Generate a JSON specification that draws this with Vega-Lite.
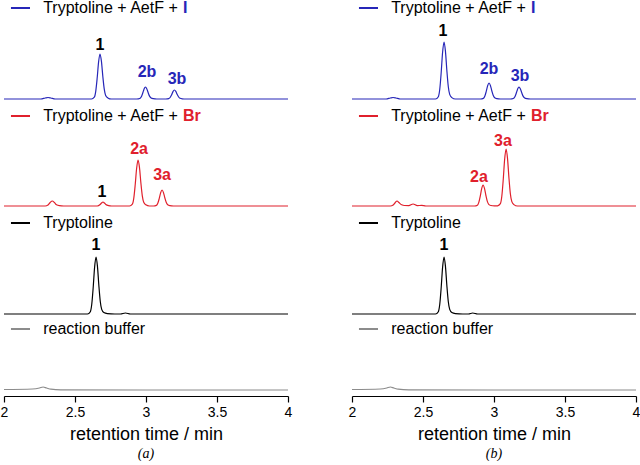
{
"$schema": "https://vega.github.io/schema/vega-lite/v6.json",
"padding": {"left": 0, "right": 0, "top": 0, "bottom": 0},
"background": "white",
"spacing": 56,
"config": {
  "view": {"stroke": null},
  "font": "Liberation Sans",
  "axis": {
    "domainColor": "black", "tickColor": "black", "domainWidth": 1.2, "tickWidth": 1.2,
    "labelFontSize": 14, "labelColor": "black", "labelFont": "Liberation Sans",
    "titleFontSize": 18, "titleFontWeight": "normal", "titleColor": "black", "titleFont": "Liberation Sans",
    "titlePadding": 6, "labelPadding": 3, "grid": false, "labelFlush": false, "labelOverlap": false
  }
},
"datasets": {
  "traces": [
    {"p":"a","s":"I","t":2.0,"y":297},{"p":"a","s":"I","t":2.26,"y":297},{"p":"a","s":"I","t":2.29,"y":298},{"p":"a","s":"I","t":2.31,"y":298.5},{"p":"a","s":"I","t":2.33,"y":298},{"p":"a","s":"I","t":2.36,"y":297},
    {"p":"a","s":"I","t":2.616,"y":297},{"p":"a","s":"I","t":2.636,"y":298.8},{"p":"a","s":"I","t":2.646,"y":304.7},{"p":"a","s":"I","t":2.656,"y":317.7},{"p":"a","s":"I","t":2.666,"y":333.9},{"p":"a","s":"I","t":2.676,"y":342},{"p":"a","s":"I","t":2.686,"y":334.8},{"p":"a","s":"I","t":2.696,"y":319.5},{"p":"a","s":"I","t":2.706,"y":306.9},{"p":"a","s":"I","t":2.716,"y":300.6},{"p":"a","s":"I","t":2.731,"y":298.1},{"p":"a","s":"I","t":2.756,"y":297},
    {"p":"a","s":"I","t":2.936,"y":297},{"p":"a","s":"I","t":2.956,"y":297.5},{"p":"a","s":"I","t":2.966,"y":299},{"p":"a","s":"I","t":2.976,"y":302.5},{"p":"a","s":"I","t":2.986,"y":306.8},{"p":"a","s":"I","t":2.996,"y":309},{"p":"a","s":"I","t":3.006,"y":307.1},{"p":"a","s":"I","t":3.016,"y":303},{"p":"a","s":"I","t":3.026,"y":299.6},{"p":"a","s":"I","t":3.036,"y":298},{"p":"a","s":"I","t":3.051,"y":297.3},{"p":"a","s":"I","t":3.076,"y":297},
    {"p":"a","s":"I","t":3.14,"y":297},{"p":"a","s":"I","t":3.16,"y":297.4},{"p":"a","s":"I","t":3.17,"y":298.5},{"p":"a","s":"I","t":3.18,"y":301.1},{"p":"a","s":"I","t":3.19,"y":304.4},{"p":"a","s":"I","t":3.2,"y":306},{"p":"a","s":"I","t":3.21,"y":304.6},{"p":"a","s":"I","t":3.22,"y":301.5},{"p":"a","s":"I","t":3.23,"y":299},{"p":"a","s":"I","t":3.24,"y":297.7},{"p":"a","s":"I","t":3.255,"y":297.2},{"p":"a","s":"I","t":3.28,"y":297},{"p":"a","s":"I","t":4.0,"y":297},

    {"p":"a","s":"Br","t":2.0,"y":190},{"p":"a","s":"Br","t":2.29,"y":190},{"p":"a","s":"Br","t":2.31,"y":191},{"p":"a","s":"Br","t":2.325,"y":193.5},{"p":"a","s":"Br","t":2.34,"y":195},{"p":"a","s":"Br","t":2.355,"y":193.5},{"p":"a","s":"Br","t":2.37,"y":191.2},{"p":"a","s":"Br","t":2.39,"y":190.3},{"p":"a","s":"Br","t":2.42,"y":190},
    {"p":"a","s":"Br","t":2.657,"y":190},{"p":"a","s":"Br","t":2.677,"y":191.5},{"p":"a","s":"Br","t":2.687,"y":193},{"p":"a","s":"Br","t":2.697,"y":194},{"p":"a","s":"Br","t":2.707,"y":193},{"p":"a","s":"Br","t":2.717,"y":191.5},{"p":"a","s":"Br","t":2.737,"y":190.3},{"p":"a","s":"Br","t":2.757,"y":190},
    {"p":"a","s":"Br","t":2.884,"y":190},{"p":"a","s":"Br","t":2.904,"y":191.8},{"p":"a","s":"Br","t":2.914,"y":197.8},{"p":"a","s":"Br","t":2.924,"y":211.2},{"p":"a","s":"Br","t":2.934,"y":227.7},{"p":"a","s":"Br","t":2.944,"y":236},{"p":"a","s":"Br","t":2.954,"y":228.6},{"p":"a","s":"Br","t":2.964,"y":213},{"p":"a","s":"Br","t":2.974,"y":200.1},{"p":"a","s":"Br","t":2.984,"y":193.7},{"p":"a","s":"Br","t":2.999,"y":191.2},{"p":"a","s":"Br","t":3.024,"y":190},
    {"p":"a","s":"Br","t":3.053,"y":190},{"p":"a","s":"Br","t":3.073,"y":190.6},{"p":"a","s":"Br","t":3.083,"y":192.7},{"p":"a","s":"Br","t":3.093,"y":197.4},{"p":"a","s":"Br","t":3.103,"y":203.1},{"p":"a","s":"Br","t":3.113,"y":206},{"p":"a","s":"Br","t":3.123,"y":203.4},{"p":"a","s":"Br","t":3.133,"y":198},{"p":"a","s":"Br","t":3.143,"y":193.5},{"p":"a","s":"Br","t":3.153,"y":191.3},{"p":"a","s":"Br","t":3.168,"y":190.4},{"p":"a","s":"Br","t":3.193,"y":190},{"p":"a","s":"Br","t":4.0,"y":190},

    {"p":"a","s":"T","t":2.0,"y":82},{"p":"a","s":"T","t":2.588,"y":82},{"p":"a","s":"T","t":2.608,"y":84.3},{"p":"a","s":"T","t":2.618,"y":91.7},{"p":"a","s":"T","t":2.628,"y":108.2},{"p":"a","s":"T","t":2.638,"y":128.7},{"p":"a","s":"T","t":2.648,"y":139},{"p":"a","s":"T","t":2.658,"y":129.9},{"p":"a","s":"T","t":2.668,"y":110.5},{"p":"a","s":"T","t":2.678,"y":94.5},{"p":"a","s":"T","t":2.688,"y":86.6},{"p":"a","s":"T","t":2.703,"y":83.4},{"p":"a","s":"T","t":2.728,"y":82.4},{"p":"a","s":"T","t":2.78,"y":82},{"p":"a","s":"T","t":2.82,"y":82},{"p":"a","s":"T","t":2.855,"y":83},{"p":"a","s":"T","t":2.89,"y":82},{"p":"a","s":"T","t":4.0,"y":82},

    {"p":"a","s":"B","t":2.0,"y":6.5},{"p":"a","s":"B","t":2.2,"y":7},{"p":"a","s":"B","t":2.25,"y":8},{"p":"a","s":"B","t":2.275,"y":9},{"p":"a","s":"B","t":2.3,"y":8},{"p":"a","s":"B","t":2.33,"y":6.8},{"p":"a","s":"B","t":2.4,"y":6.2},{"p":"a","s":"B","t":3.0,"y":6},{"p":"a","s":"B","t":4.0,"y":6},

    {"p":"b","s":"I","t":2.0,"y":297},{"p":"b","s":"I","t":2.24,"y":297},{"p":"b","s":"I","t":2.27,"y":298},{"p":"b","s":"I","t":2.289,"y":298.5},{"p":"b","s":"I","t":2.31,"y":298},{"p":"b","s":"I","t":2.34,"y":297},
    {"p":"b","s":"I","t":2.588,"y":297},{"p":"b","s":"I","t":2.608,"y":299.3},{"p":"b","s":"I","t":2.618,"y":306.7},{"p":"b","s":"I","t":2.628,"y":323.2},{"p":"b","s":"I","t":2.638,"y":343.7},{"p":"b","s":"I","t":2.648,"y":354},{"p":"b","s":"I","t":2.658,"y":344.9},{"p":"b","s":"I","t":2.668,"y":325.5},{"p":"b","s":"I","t":2.678,"y":309.5},{"p":"b","s":"I","t":2.688,"y":301.6},{"p":"b","s":"I","t":2.703,"y":298.4},{"p":"b","s":"I","t":2.728,"y":297},
    {"p":"b","s":"I","t":2.905,"y":297},{"p":"b","s":"I","t":2.925,"y":297.6},{"p":"b","s":"I","t":2.935,"y":299.7},{"p":"b","s":"I","t":2.945,"y":304.4},{"p":"b","s":"I","t":2.955,"y":310.1},{"p":"b","s":"I","t":2.965,"y":313},{"p":"b","s":"I","t":2.975,"y":310.4},{"p":"b","s":"I","t":2.985,"y":305},{"p":"b","s":"I","t":2.995,"y":300.5},{"p":"b","s":"I","t":3.005,"y":298.3},{"p":"b","s":"I","t":3.02,"y":297.4},{"p":"b","s":"I","t":3.045,"y":297},
    {"p":"b","s":"I","t":3.116,"y":297},{"p":"b","s":"I","t":3.136,"y":297.5},{"p":"b","s":"I","t":3.146,"y":299},{"p":"b","s":"I","t":3.156,"y":302.5},{"p":"b","s":"I","t":3.166,"y":306.8},{"p":"b","s":"I","t":3.176,"y":309},{"p":"b","s":"I","t":3.186,"y":307.1},{"p":"b","s":"I","t":3.196,"y":303},{"p":"b","s":"I","t":3.206,"y":299.6},{"p":"b","s":"I","t":3.216,"y":298},{"p":"b","s":"I","t":3.231,"y":297.3},{"p":"b","s":"I","t":3.256,"y":297},{"p":"b","s":"I","t":4.0,"y":297},

    {"p":"b","s":"Br","t":2.0,"y":190},{"p":"b","s":"Br","t":2.27,"y":190},{"p":"b","s":"Br","t":2.29,"y":191},{"p":"b","s":"Br","t":2.305,"y":193.5},{"p":"b","s":"Br","t":2.317,"y":195},{"p":"b","s":"Br","t":2.33,"y":193.5},{"p":"b","s":"Br","t":2.35,"y":191.2},{"p":"b","s":"Br","t":2.37,"y":190.5},{"p":"b","s":"Br","t":2.4,"y":190.4},{"p":"b","s":"Br","t":2.43,"y":192},{"p":"b","s":"Br","t":2.46,"y":190.4},{"p":"b","s":"Br","t":2.49,"y":190.6},{"p":"b","s":"Br","t":2.52,"y":190},
    {"p":"b","s":"Br","t":2.863,"y":190},{"p":"b","s":"Br","t":2.883,"y":190.8},{"p":"b","s":"Br","t":2.893,"y":193.6},{"p":"b","s":"Br","t":2.903,"y":199.7},{"p":"b","s":"Br","t":2.913,"y":207.2},{"p":"b","s":"Br","t":2.923,"y":211},{"p":"b","s":"Br","t":2.933,"y":207.6},{"p":"b","s":"Br","t":2.943,"y":200.5},{"p":"b","s":"Br","t":2.953,"y":194.6},{"p":"b","s":"Br","t":2.963,"y":191.7},{"p":"b","s":"Br","t":2.978,"y":190.5},{"p":"b","s":"Br","t":3.003,"y":190.1},
    {"p":"b","s":"Br","t":3.025,"y":190.2},{"p":"b","s":"Br","t":3.045,"y":192.3},{"p":"b","s":"Br","t":3.055,"y":199.7},{"p":"b","s":"Br","t":3.065,"y":216.2},{"p":"b","s":"Br","t":3.075,"y":236.7},{"p":"b","s":"Br","t":3.085,"y":247},{"p":"b","s":"Br","t":3.095,"y":237.9},{"p":"b","s":"Br","t":3.105,"y":218.5},{"p":"b","s":"Br","t":3.115,"y":202.5},{"p":"b","s":"Br","t":3.125,"y":194.6},{"p":"b","s":"Br","t":3.14,"y":191.4},{"p":"b","s":"Br","t":3.165,"y":190},{"p":"b","s":"Br","t":4.0,"y":190},

    {"p":"b","s":"T","t":2.0,"y":82},{"p":"b","s":"T","t":2.588,"y":82},{"p":"b","s":"T","t":2.608,"y":84.3},{"p":"b","s":"T","t":2.618,"y":91.7},{"p":"b","s":"T","t":2.628,"y":108.2},{"p":"b","s":"T","t":2.638,"y":128.7},{"p":"b","s":"T","t":2.648,"y":139},{"p":"b","s":"T","t":2.658,"y":129.9},{"p":"b","s":"T","t":2.668,"y":110.5},{"p":"b","s":"T","t":2.678,"y":94.5},{"p":"b","s":"T","t":2.688,"y":86.6},{"p":"b","s":"T","t":2.703,"y":83.4},{"p":"b","s":"T","t":2.728,"y":82.4},{"p":"b","s":"T","t":2.78,"y":82},{"p":"b","s":"T","t":2.82,"y":82},{"p":"b","s":"T","t":2.85,"y":83},{"p":"b","s":"T","t":2.885,"y":82},{"p":"b","s":"T","t":4.0,"y":82},

    {"p":"b","s":"B","t":2.0,"y":6.5},{"p":"b","s":"B","t":2.2,"y":7},{"p":"b","s":"B","t":2.245,"y":8},{"p":"b","s":"B","t":2.27,"y":9},{"p":"b","s":"B","t":2.295,"y":8},{"p":"b","s":"B","t":2.325,"y":6.8},{"p":"b","s":"B","t":2.4,"y":6.2},{"p":"b","s":"B","t":3.0,"y":6},{"p":"b","s":"B","t":4.0,"y":6}
  ],
  "legend": [
    {"s":"I","y":388,"label":"Tryptoline + AetF + ","suf":"I"},
    {"s":"Br","y":280,"label":"Tryptoline + AetF + ","suf":"Br"},
    {"s":"T","y":173,"label":"Tryptoline","suf":""},
    {"s":"B","y":67,"label":"reaction buffer","suf":""}
  ],
  "peaks": [
    {"p":"a","t":2.676,"y":351,"text":"1","c":"T"},
    {"p":"a","t":3.007,"y":324,"text":"2b","c":"I"},
    {"p":"a","t":3.218,"y":317,"text":"3b","c":"I"},
    {"p":"a","t":2.951,"y":247,"text":"2a","c":"Br"},
    {"p":"a","t":3.113,"y":221,"text":"3a","c":"Br"},
    {"p":"a","t":2.69,"y":204,"text":"1","c":"T"},
    {"p":"a","t":2.648,"y":151,"text":"1","c":"T"},
    {"p":"b","t":2.641,"y":365,"text":"1","c":"T"},
    {"p":"b","t":2.965,"y":327,"text":"2b","c":"I"},
    {"p":"b","t":3.183,"y":320,"text":"3b","c":"I"},
    {"p":"b","t":2.894,"y":219,"text":"2a","c":"Br"},
    {"p":"b","t":3.063,"y":255,"text":"3a","c":"Br"},
    {"p":"b","t":2.648,"y":151,"text":"1","c":"T"}
  ]
},
"hconcat": [
  {
    "width": 284, "height": 394,
    "title": {"text": "(a)", "orient": "bottom", "font": "Liberation Serif", "fontStyle": "italic", "fontWeight": "normal", "fontSize": 14, "offset": 4, "color": "black"},
    "layer": [
      {"data": {"name": "traces"}, "transform": [{"filter": "datum.p === 'a'"}],
       "mark": {"type": "line", "strokeWidth": 1.2, "interpolate": "monotone"},
       "encoding": {
         "x": {"field": "t", "type": "quantitative", "scale": {"domain": [2, 4], "nice": false, "zero": false}, "title": "retention time / min",
               "axis": {"values": [2, 2.25, 2.5, 2.75, 3, 3.25, 3.5, 3.75, 4],
                        "labelExpr": "(datum.value*4)%2===1 ? '' : format(datum.value,'~g')",
                        "tickSize": {"condition": {"test": "(datum.value*4)%2===1", "value": 3}, "value": 6}}},
         "y": {"field": "y", "type": "quantitative", "scale": {"domain": [0, 394], "nice": false, "zero": false}, "axis": null},
         "color": {"field": "s", "type": "nominal", "scale": {"domain": ["I", "Br", "T", "B"], "range": ["#2626b8", "#e0202c", "#000000", "#8c8c8c"]}, "legend": null},
         "order": {"field": "t", "type": "quantitative"}
       }},
      {"data": {"name": "legend"}, "mark": {"type": "rule", "strokeWidth": 2},
       "encoding": {"x": {"datum": 2.049}, "x2": {"datum": 2.183}, "y": {"field": "y", "type": "quantitative"}, "color": {"field": "s", "type": "nominal"}}},
      {"data": {"name": "legend"}, "mark": {"type": "text", "align": "left", "baseline": "middle", "fontSize": 16, "color": "black"},
       "encoding": {"x": {"datum": 2.276}, "y": {"field": "y", "type": "quantitative"}, "text": {"field": "label"}}},
      {"data": {"name": "legend"}, "mark": {"type": "text", "align": "left", "baseline": "middle", "fontSize": 16, "fontWeight": "bold"},
       "encoding": {"x": {"datum": 3.261}, "y": {"field": "y", "type": "quantitative"}, "text": {"field": "suf"}, "color": {"field": "s", "type": "nominal"}}},
      {"data": {"name": "peaks"}, "transform": [{"filter": "datum.p === 'a'"}],
       "mark": {"type": "text", "align": "center", "baseline": "middle", "fontSize": 16, "fontWeight": "bold"},
       "encoding": {"x": {"field": "t", "type": "quantitative"}, "y": {"field": "y", "type": "quantitative"}, "text": {"field": "text"}, "color": {"field": "c", "type": "nominal"}}}
    ]
  },
  {
    "width": 284, "height": 394,
    "title": {"text": "(b)", "orient": "bottom", "font": "Liberation Serif", "fontStyle": "italic", "fontWeight": "normal", "fontSize": 14, "offset": 4, "color": "black"},
    "layer": [
      {"data": {"name": "traces"}, "transform": [{"filter": "datum.p === 'b'"}],
       "mark": {"type": "line", "strokeWidth": 1.2, "interpolate": "monotone"},
       "encoding": {
         "x": {"field": "t", "type": "quantitative", "scale": {"domain": [2, 4], "nice": false, "zero": false}, "title": "retention time / min",
               "axis": {"values": [2, 2.25, 2.5, 2.75, 3, 3.25, 3.5, 3.75, 4],
                        "labelExpr": "(datum.value*4)%2===1 ? '' : format(datum.value,'~g')",
                        "tickSize": {"condition": {"test": "(datum.value*4)%2===1", "value": 3}, "value": 6}}},
         "y": {"field": "y", "type": "quantitative", "scale": {"domain": [0, 394], "nice": false, "zero": false}, "axis": null},
         "color": {"field": "s", "type": "nominal", "scale": {"domain": ["I", "Br", "T", "B"], "range": ["#2626b8", "#e0202c", "#000000", "#8c8c8c"]}, "legend": null},
         "order": {"field": "t", "type": "quantitative"}
       }},
      {"data": {"name": "legend"}, "mark": {"type": "rule", "strokeWidth": 2},
       "encoding": {"x": {"datum": 2.049}, "x2": {"datum": 2.183}, "y": {"field": "y", "type": "quantitative"}, "color": {"field": "s", "type": "nominal"}}},
      {"data": {"name": "legend"}, "mark": {"type": "text", "align": "left", "baseline": "middle", "fontSize": 16, "color": "black"},
       "encoding": {"x": {"datum": 2.276}, "y": {"field": "y", "type": "quantitative"}, "text": {"field": "label"}}},
      {"data": {"name": "legend"}, "mark": {"type": "text", "align": "left", "baseline": "middle", "fontSize": 16, "fontWeight": "bold"},
       "encoding": {"x": {"datum": 3.261}, "y": {"field": "y", "type": "quantitative"}, "text": {"field": "suf"}, "color": {"field": "s", "type": "nominal"}}},
      {"data": {"name": "peaks"}, "transform": [{"filter": "datum.p === 'b'"}],
       "mark": {"type": "text", "align": "center", "baseline": "middle", "fontSize": 16, "fontWeight": "bold"},
       "encoding": {"x": {"field": "t", "type": "quantitative"}, "y": {"field": "y", "type": "quantitative"}, "text": {"field": "text"}, "color": {"field": "c", "type": "nominal"}}}
    ]
  }
]
}
